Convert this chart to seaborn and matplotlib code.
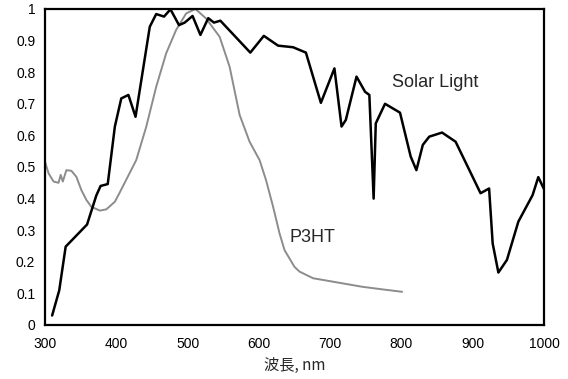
import matplotlib
matplotlib.use("Agg")
import matplotlib.pyplot as plt
import seaborn as sns
import pandas as pd

# Solar Light spectrum (normalized)
solar_wl = [310, 320, 329, 359, 372, 378, 388, 398, 407, 417, 427, 447, 456, 467,
            476, 488, 496, 507, 518, 529, 537, 546, 588, 607, 627, 648, 666, 687,
            706, 716, 722, 737, 749, 755, 761, 764, 777, 798, 813, 821, 830, 839,
            857, 876, 911, 923, 928, 936, 948, 964, 984, 992, 1000]
solar_val = [0.03, 0.11, 0.248, 0.318, 0.41, 0.44, 0.446, 0.628, 0.717, 0.728,
             0.659, 0.944, 0.984, 0.976, 0.999, 0.949, 0.957, 0.978, 0.918, 0.971,
             0.957, 0.963, 0.862, 0.915, 0.884, 0.879, 0.862, 0.703, 0.812, 0.628,
             0.649, 0.786, 0.738, 0.728, 0.40, 0.638, 0.70, 0.672, 0.533, 0.49,
             0.57, 0.596, 0.609, 0.58, 0.417, 0.432, 0.258, 0.166, 0.206, 0.327,
             0.411, 0.468, 0.43]

# P3HT absorption (normalized)
p3ht_wl = [300, 305, 312, 319, 322, 325, 330, 337, 344, 351, 358, 365, 377, 386,
           398, 405, 428, 442, 456, 470, 484, 498, 511, 526, 545, 559, 573, 587,
           601, 610, 620, 629, 636, 650, 657, 676, 699, 722, 745, 769, 801]
p3ht_val = [0.517, 0.48, 0.454, 0.45, 0.475, 0.454, 0.49, 0.488, 0.469, 0.427,
            0.396, 0.374, 0.362, 0.366, 0.39, 0.42, 0.522, 0.627, 0.754, 0.86,
            0.934, 0.986, 1.0, 0.97, 0.912, 0.817, 0.665, 0.58, 0.522, 0.459,
            0.374, 0.29, 0.237, 0.184, 0.169, 0.148, 0.139, 0.13, 0.121, 0.114,
            0.105]

x_ticks = [300, 400, 500, 600, 700, 800, 900, 1000]
y_ticks = [0, 0.1, 0.2, 0.3, 0.4, 0.5, 0.6, 0.7, 0.8, 0.9, 1]
y_tick_labels = ["0", "0.1", "0.2", "0.3", "0.4", "0.5", "0.6", "0.7", "0.8", "0.9", "1"]

sns.set_style("white")
plt.rcParams['font.family'] = ['Liberation Sans', 'Noto Sans CJK JP', 'DejaVu Sans']

df_solar = pd.DataFrame({"wl": solar_wl, "val": solar_val})
df_p3ht = pd.DataFrame({"wl": p3ht_wl, "val": p3ht_val})

fig = plt.figure(figsize=(5.68, 3.79), dpi=100)
ax = fig.add_axes([45 / 568, 1 - 325 / 379, 499 / 568, 316 / 379])

sns.lineplot(data=df_p3ht, x="wl", y="val", ax=ax, color="#8c8c8c", lw=1.4,
             sort=False, estimator=None)
sns.lineplot(data=df_solar, x="wl", y="val", ax=ax, color="black", lw=1.8,
             sort=False, estimator=None)

ax.set_xlim(300, 1000)
ax.set_ylim(0, 1)
ax.set_xticks(x_ticks)
ax.set_xticklabels([str(t) for t in x_ticks])
ax.set_yticks(y_ticks)
ax.set_yticklabels(y_tick_labels)
ax.tick_params(direction="in", length=3, width=0.8, colors="#999999",
               labelcolor="black", labelsize=10, pad=7)
ax.tick_params(axis="x", pad=9)

ax.set_frame_on(True)
for side in ["left", "bottom", "top", "right"]:
    ax.spines[side].set_visible(True)
    ax.spines[side].set_color("black")
    ax.spines[side].set_linewidth(1.6)
    ax.spines[side].set_zorder(5)

ax.set_xlabel("波長, nm", fontsize=11, labelpad=4,
              family=['Noto Sans CJK JP', 'Liberation Sans'])
ax.set_ylabel("")

ax.text(787, 0.766, "Solar Light", fontsize=13, ha="left", va="center")
ax.text(643, 0.278, "P3HT", fontsize=13, ha="left", va="center")

fig.savefig("out.png", dpi=100)
